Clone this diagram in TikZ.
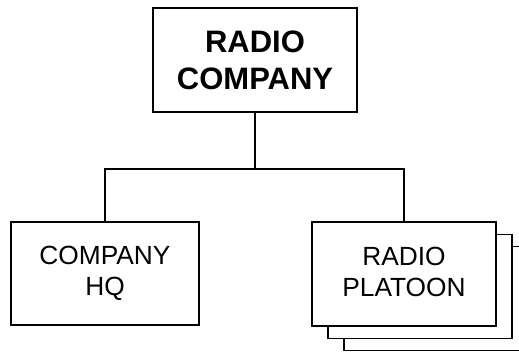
\documentclass[tikz,border=0pt]{standalone}
\usepackage{fontspec}
\setmainfont{Liberation Sans}
\begin{document}
\begin{tikzpicture}[x=1pt,y=-1pt,
  box/.style={draw=black,line width=1.4pt,fill=white,inner sep=0pt,align=center},
  headbox/.style={box,minimum width=204pt,minimum height=104pt,font=\fontsize{31}{37}\selectfont\bfseries},
  unitbox/.style={box,minimum width=186pt,minimum height=104pt,font=\fontsize{26.3}{31}\selectfont},
  link/.style={line width=1.4pt}]
\useasboundingbox (0,0) rectangle (519,352);
\clip (0,0) rectangle (519,352);
\node[headbox] (top) at (255,60) {RADIO\\COMPANY};
\node[unitbox,minimum width=188pt,minimum height=103pt] (hq) at (105,273.5) {COMPANY\\HQ};
\node[unitbox,minimum width=184pt] (back2) at (436,298.5) {};
\node[unitbox,minimum width=184pt] (back1) at (420,286.5) {};
\node[unitbox,minimum width=184pt] (plt) at (404,274) {RADIO\\PLATOON\vphantom{Q}};
\coordinate (j) at (top.south |- 0,169);
\draw[link] (top.south) -- (j);
\draw[link] (hq.north) |- (j) -| (plt.north);
\end{tikzpicture}
\end{document}
